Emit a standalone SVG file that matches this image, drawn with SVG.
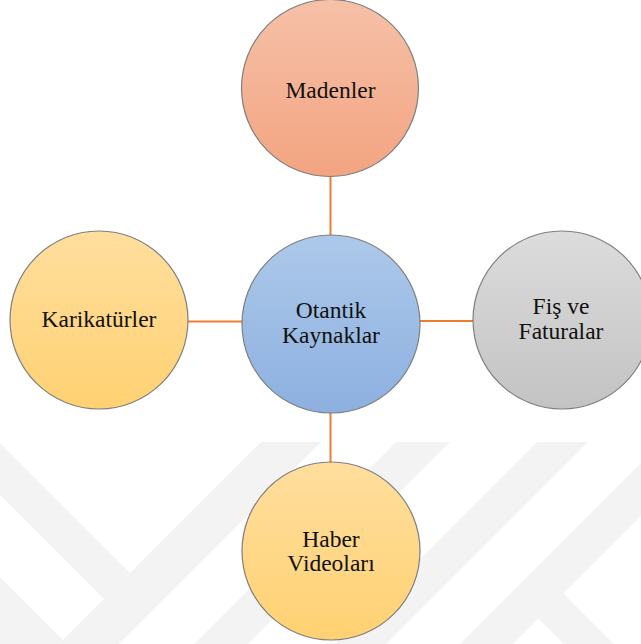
<svg xmlns="http://www.w3.org/2000/svg" width="641" height="644" viewBox="0 0 641 644">
<defs>
<linearGradient id="gOrange" x1="0" y1="0" x2="0" y2="1"><stop offset="0" stop-color="#F6C1A8"/><stop offset="1" stop-color="#F3A481"/></linearGradient>
<linearGradient id="gBlue" x1="0" y1="0" x2="0" y2="1"><stop offset="0" stop-color="#ADC9EA"/><stop offset="1" stop-color="#8DB0E0"/></linearGradient>
<linearGradient id="gYellow" x1="0" y1="0" x2="0" y2="1"><stop offset="0" stop-color="#FFDE9E"/><stop offset="1" stop-color="#FFD172"/></linearGradient>
<linearGradient id="gGray" x1="0" y1="0" x2="0" y2="1"><stop offset="0" stop-color="#DCDCDC"/><stop offset="1" stop-color="#C3C3C3"/></linearGradient>
</defs>
<style>
.node circle{stroke:#7f7f7f;stroke-width:1.2}
.lbl{font-family:"Liberation Serif","Times New Roman",serif;font-size:23.5px;fill:#111;text-anchor:middle}
.conn line{stroke:#ED7D31;stroke-width:2}
.wm{fill:#f3f3f3}
</style>
<rect width="641" height="644" fill="#ffffff"/>
<g id="watermark" class="wm">
<polygon points="0,443 130,573 104,599 0,495"/>
<polygon points="261,442 321,442 119,644 59,644"/>
<polygon points="0,577 63,640 59,644 0,644"/>
<polygon points="396,442 450,442 248,644 194,644"/>
<polygon points="537,442 588,442 386,644 335,644"/>
<polygon points="662,442 715,442 513,644 460,644"/>
<polygon points="563.5,593.5 614,644 564,644 538.5,618.5"/>
</g>
<g id="connectors" class="conn">
<line x1="330.5" y1="176" x2="330.5" y2="236"/>
<line x1="188" y1="321.5" x2="243" y2="321.5"/>
<line x1="419" y1="321" x2="474" y2="321"/>
<line x1="330.5" y1="412" x2="330.5" y2="463"/>
</g>
<g id="node-madenler" class="node">
<circle cx="330" cy="88" r="88.5" fill="url(#gOrange)"/>
<text class="lbl" x="330.5" y="98">Madenler</text>
</g>
<g id="node-otantik" class="node">
<circle cx="331" cy="324" r="89" fill="url(#gBlue)"/>
<text class="lbl" x="331" y="318">Otantik</text>
<text class="lbl" x="331" y="343">Kaynaklar</text>
</g>
<g id="node-karikaturler" class="node">
<circle cx="99" cy="320" r="89" fill="url(#gYellow)"/>
<text class="lbl" x="99" y="327">Karikatürler</text>
</g>
<g id="node-fis" class="node">
<circle cx="562" cy="320" r="89" fill="url(#gGray)"/>
<text class="lbl" x="561" y="314">Fiş ve</text>
<text class="lbl" x="561" y="339">Faturalar</text>
</g>
<g id="node-haber" class="node">
<circle cx="331" cy="551" r="89" fill="url(#gYellow)"/>
<text class="lbl" x="331" y="547">Haber</text>
<text class="lbl" x="331" y="571">Videoları</text>
</g>
</svg>
